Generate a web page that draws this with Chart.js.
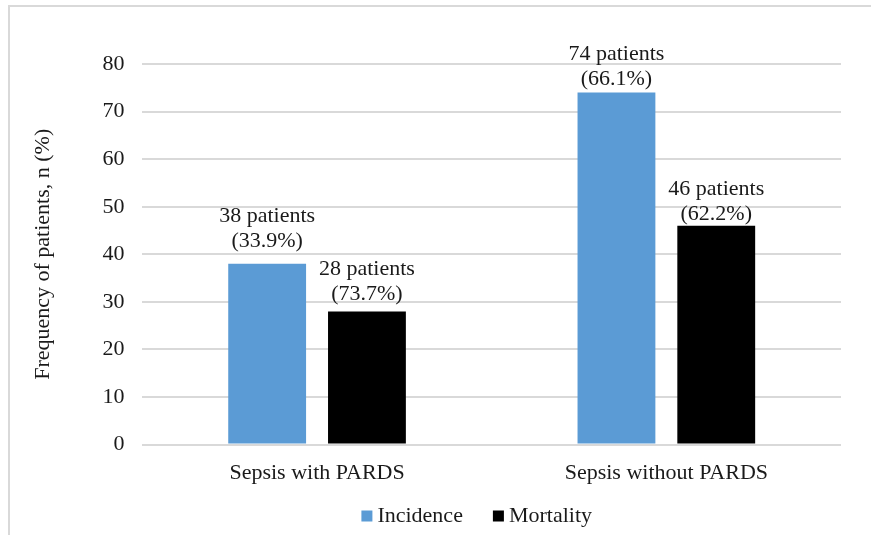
<!DOCTYPE html>
<html>
<head>
<meta charset="utf-8">
<script src="https://cdn.jsdelivr.net/npm/chart.js@4.4.1/dist/chart.umd.min.js"></script>
<style>
  html, body { margin: 0; padding: 0; background: #fff; }
  #frame {
    position: absolute; left: 8px; top: 5px;
    width: 900px; height: 560px;
    border: 2px solid #d9d9d9; box-sizing: border-box;
  }
  #wrap { position: absolute; left: 0; top: 0; width: 871px; height: 535px; }
</style>
</head>
<body>
<div id="frame"></div>
<div id="wrap"><canvas id="c" width="871" height="535"></canvas></div>
<script>
const categories = ["Sepsis with PARDS", "Sepsis without PARDS"];
const incidence = [38, 74];
const mortality = [28, 46];
const incidencePct = ["33.9%", "66.1%"];
const mortalityPct = ["73.7%", "62.2%"];
const yTicks = [0, 10, 20, 30, 40, 50, 60, 70, 80];

const FONT = "'Liberation Serif', 'DejaVu Serif', serif";
const SIZE = 22;
const TEXT = "#1a1a1a";

// Two-line "n patients (x%)" labels above each bar;
// lift = gap (px) from bar top to the middle of the lower line, per dataset/category
const barLabels = {
  id: 'barLabels',
  afterDatasetsDraw(chart) {
    const ctx = chart.ctx;
    const pcts = [incidencePct, mortalityPct];
    const lift = [[23, 13], [17, 12]];
    ctx.save();
    ctx.font = SIZE + "px " + FONT;
    ctx.fillStyle = TEXT;
    ctx.textAlign = 'center';
    ctx.textBaseline = 'middle';
    chart.data.datasets.forEach((ds, di) => {
      chart.getDatasetMeta(di).data.forEach((bar, i) => {
        const v = ds.data[i];
        const y2 = bar.y - lift[di][i];
        ctx.fillText('(' + pcts[di][i] + ')', bar.x, y2);
        ctx.fillText(v + ' patients', bar.x, y2 - 25);
      });
    });
    ctx.restore();
  }
};

// Compact legend under the plot: small square swatch, tight gap
const bottomLegend = {
  id: 'bottomLegend',
  afterDraw(chart) {
    const ctx = chart.ctx;
    const area = chart.chartArea;
    const box = 11, gap = 5, itemGap = 30;
    ctx.save();
    ctx.font = SIZE + "px " + FONT;
    ctx.textBaseline = 'middle';
    ctx.textAlign = 'left';
    const items = chart.data.datasets.map(ds => ({
      text: ds.label, color: ds.backgroundColor,
      w: box + gap + ctx.measureText(ds.label).width
    }));
    const total = items.reduce((s, it) => s + it.w, 0) + itemGap * (items.length - 1);
    let x = (area.left + area.right) / 2 - 15 - total / 2;
    const y = 516;
    items.forEach(it => {
      ctx.fillStyle = it.color;
      ctx.fillRect(x, y - box / 2, box, box);
      ctx.fillStyle = TEXT;
      ctx.fillText(it.text, x + box + gap, y);
      x += it.w + itemGap;
    });
    ctx.restore();
  }
};

new Chart(document.getElementById('c'), {
  type: 'bar',
  data: {
    labels: categories,
    datasets: [
      { label: 'Incidence', data: incidence, backgroundColor: '#5b9bd5',
        categoryPercentage: 0.5714, barPercentage: 0.78 },
      { label: 'Mortality', data: mortality, backgroundColor: '#000000',
        categoryPercentage: 0.5714, barPercentage: 0.78 }
    ]
  },
  options: {
    responsive: false,
    animation: false,
    layout: { padding: { left: 26, right: 30, top: 64, bottom: 42 } },
    plugins: {
      legend: { display: false },
      tooltip: { enabled: false }
    },
    scales: {
      x: {
        grid: { display: false },
        border: { display: false },
        ticks: { font: { family: FONT, size: SIZE }, color: TEXT, padding: 7 }
      },
      y: {
        min: 0, max: 80,
        afterBuildTicks(axis) { axis.ticks = yTicks.map(v => ({ value: v })); },
        grid: { color: '#d9d9d9', lineWidth: 2, drawTicks: false },
        border: { display: false },
        ticks: { font: { family: FONT, size: SIZE }, color: TEXT, padding: 18 },
        title: {
          display: true, text: 'Frequency of patients, n (%)',
          font: { family: FONT, size: SIZE }, color: TEXT, padding: { bottom: 28 }
        }
      }
    }
  },
  plugins: [barLabels, bottomLegend]
});
</script>
</body>
</html>
